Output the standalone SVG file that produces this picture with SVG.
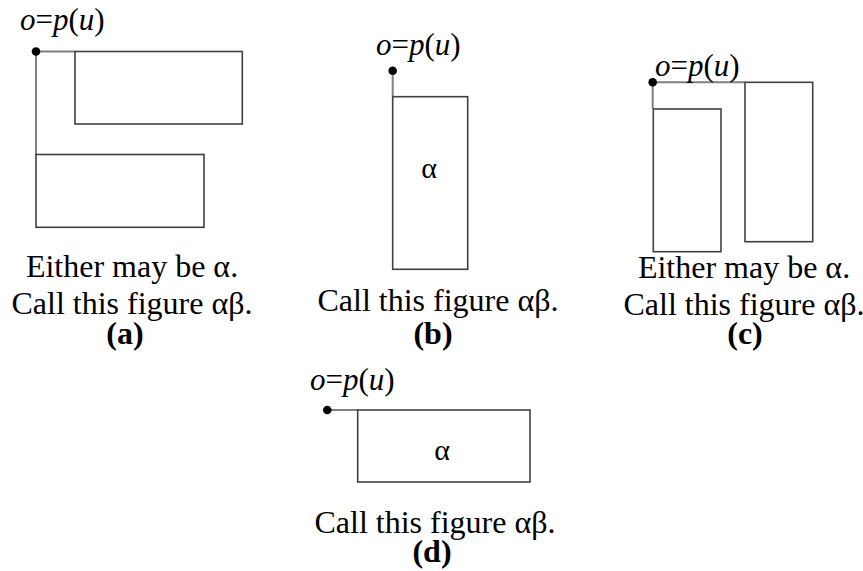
<svg xmlns="http://www.w3.org/2000/svg" width="863" height="571" viewBox="0 0 863 571">
<style>
.box{fill:#fff;stroke:#404040;stroke-width:1.6}
.conn{fill:none;stroke:#808080;stroke-width:2}
.dot{fill:#000}
.t{font-family:"Liberation Serif","Times New Roman",serif;font-size:32px;fill:#000;text-anchor:middle}
.lab{font-family:"Liberation Serif","Times New Roman",serif;font-size:31px;fill:#000}
.lab .i{font-style:italic}
.b{font-weight:bold}
.al{font-family:"Liberation Serif","Times New Roman",serif;font-size:30px;fill:#000;text-anchor:middle}
</style>
<rect width="863" height="571" fill="#fff"/>
<g id="connectors">
<path class="conn" d="M36,51.5 H75 M36,51.5 V154.5"/>
<path class="conn" d="M392.7,70.7 V96.7"/>
<path class="conn" d="M652.7,82.3 H745 M652.7,82.3 V109"/>
<path class="conn" d="M327.3,410 H357.7"/>
</g>
<g id="fig-a">
<text class="lab" x="20" y="30"><tspan class="i">o</tspan>=<tspan class="i">p</tspan>(<tspan class="i">u</tspan>)</text>
<rect class="box" x="75" y="51.5" width="167.3" height="72.5"/>
<rect class="box" x="36" y="154.5" width="168" height="72.8"/>
<circle class="dot" cx="36" cy="51.5" r="4.3"/>
<text class="t" x="132" y="277">Either may be α.</text>
<text class="t" x="132" y="314">Call this figure αβ.</text>
<text class="t b" x="125" y="344">(a)</text>
</g>
<g id="fig-b">
<text class="lab" x="376" y="55"><tspan class="i">o</tspan>=<tspan class="i">p</tspan>(<tspan class="i">u</tspan>)</text>
<rect class="box" x="392.7" y="96.7" width="75" height="172.6"/>
<circle class="dot" cx="392.7" cy="70.7" r="4.3"/>
<text class="al" x="429" y="178">α</text>
<text class="t" x="438" y="311">Call this figure αβ.</text>
<text class="t b" x="433" y="344">(b)</text>
</g>
<g id="fig-c">
<text class="lab" x="655" y="76"><tspan class="i">o</tspan>=<tspan class="i">p</tspan>(<tspan class="i">u</tspan>)</text>
<rect class="box" x="745" y="82.3" width="67.7" height="159.4"/>
<rect class="box" x="653.3" y="109" width="67.7" height="142.7"/>
<circle class="dot" cx="652.7" cy="82.3" r="4.3"/>
<text class="t" x="744" y="278">Either may be α.</text>
<text class="t" x="744" y="315">Call this figure αβ.</text>
<text class="t b" x="745" y="344">(c)</text>
</g>
<g id="fig-d">
<text class="lab" x="310" y="390"><tspan class="i">o</tspan>=<tspan class="i">p</tspan>(<tspan class="i">u</tspan>)</text>
<rect class="box" x="357.7" y="410" width="172.3" height="72"/>
<circle class="dot" cx="327.3" cy="410" r="4.3"/>
<text class="al" x="442" y="460">α</text>
<text class="t" x="435" y="533">Call this figure αβ.</text>
<text class="t b" x="432" y="562">(d)</text>
</g>
</svg>
